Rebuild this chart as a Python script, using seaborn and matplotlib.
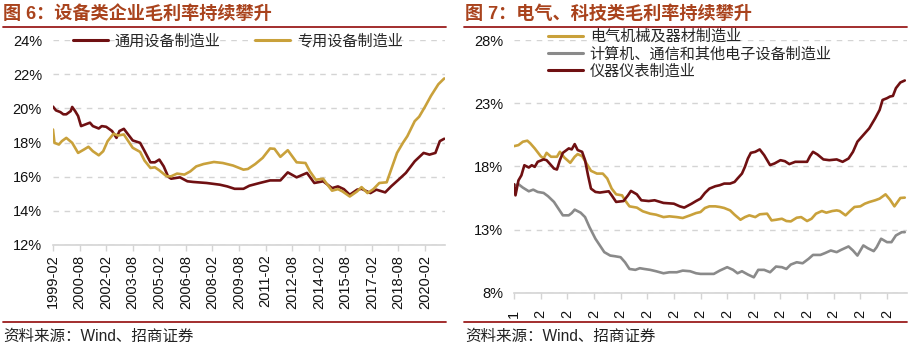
import numpy as np
import pandas as pd
import matplotlib
matplotlib.use("Agg")
import matplotlib.pyplot as plt
from matplotlib.lines import Line2D
import seaborn as sns

# ---------------- data ----------------
# x = month index from the first observation; ticks every 18 months
tick_pos = [0, 18, 36, 54, 72, 90, 108, 126, 144, 162, 180, 198, 216, 234, 252]
left_tick_labels = ["1999-02", "2000-08", "2002-02", "2003-08", "2005-02", "2006-08",
                    "2008-02", "2009-08", "2011-02", "2012-08", "2014-02", "2015-08",
                    "2017-02", "2018-08", "2020-02"]
right_tick_labels = ["1"] + ["2"] * 14

gen_m = [0, 2, 5, 7, 9, 12, 13, 15, 17, 19, 22, 25, 27, 31, 33, 36, 40, 43, 45, 48,
         50, 54, 59, 62, 66, 69, 72, 75, 78, 80, 86, 91, 95, 104, 113, 118, 123, 129, 133, 140,
         147, 154, 159, 165, 172, 177, 183, 189, 193, 197, 201, 206, 209, 215, 219, 225, 229, 234, 239, 245,
         251, 255, 259, 262, 265]
gen_v = [20.1, 19.88, 19.78, 19.65, 19.65, 19.84, 20.08, 19.84, 19.55, 18.96, 19.06, 19.16, 18.96, 18.82, 18.96,
         18.92, 18.67, 18.27, 18.67, 18.8, 18.57, 18.12, 17.98, 17.5, 16.84, 16.84, 17.0, 16.6, 16.0, 15.88,
         15.96, 15.73, 15.69, 15.63, 15.53, 15.43, 15.29, 15.29, 15.47, 15.63, 15.78, 15.78, 16.25, 15.96, 16.22,
         15.63, 15.73, 15.33, 15.43, 15.27, 14.94, 15.24, 15.29, 15.04, 15.24, 15.08, 15.43, 15.82, 16.22, 16.9,
         17.39, 17.29, 17.39, 18.08, 18.22]

spc_m = [0, 1, 4, 6, 9, 13, 17, 21, 24, 27, 31, 34, 37, 41, 44, 48, 51, 54, 59, 62,
         66, 69, 72, 77, 80, 84, 89, 93, 97, 102, 109, 115, 122, 129, 132, 137, 142, 147, 150, 154,
         159, 165, 171, 174, 178, 183, 185, 189, 193, 196, 201, 206, 209, 213, 217, 221, 226, 229, 233, 237,
         240, 245, 248, 252, 256, 261, 265]
spc_v = [18.76, 17.98, 17.88, 18.08, 18.27, 17.98, 17.39, 17.59, 17.75, 17.49, 17.25, 17.49, 18.08, 18.51, 18.41,
         18.47, 18.08, 17.69, 17.45, 16.94, 16.51, 16.55, 16.37, 16.02, 16.02, 16.18, 16.12, 16.31, 16.6, 16.74,
         16.86, 16.8, 16.65, 16.41, 16.45, 16.74, 17.1, 17.65, 17.63, 17.16, 17.55, 16.84, 16.8, 16.31, 15.82,
         15.88, 15.63, 15.18, 15.27, 15.14, 14.84, 15.14, 15.39, 15.04, 15.27, 15.63, 15.67, 16.41, 17.39, 17.98,
         18.37, 19.25, 19.51, 20.1, 20.73, 21.41, 21.75]

ele_m = [0, 3, 6, 9, 11, 14, 18, 20, 22, 25, 29, 31, 34, 38, 41, 43, 46, 49, 52, 56,
         60, 63, 66, 69, 73, 75, 78, 83, 87, 92, 96, 101, 105, 110, 114, 119, 123,
         126, 129, 132, 136, 139, 142, 146, 149, 153, 156, 159, 163, 166, 171, 174, 177, 181, 184, 187, 191,
         194, 198, 201, 204, 208, 211, 215, 218, 220, 224, 227, 230, 234, 237, 240, 244, 247, 251, 254, 257,
         261, 264]
ele_v = [19.61, 19.69, 19.96, 20.04, 19.83, 19.43, 18.82, 18.63, 19.08, 18.77, 18.77, 19.16, 18.71, 18.29, 18.77,
         18.98, 18.82, 18.24, 17.66, 17.44, 17.44, 17.05, 16.25, 15.8, 15.72, 15.33, 14.85, 14.75, 14.46, 14.27,
         14.19, 14.0, 14.06, 14.0, 13.93, 14.14, 14.32,
         14.4, 14.72, 14.85, 14.85, 14.8, 14.72, 14.53, 14.19, 13.79, 14.0, 14.14, 14.0, 14.22, 14.27, 13.74,
         13.79, 13.87, 13.69, 13.66, 13.95, 14.0, 13.69, 13.87, 14.27, 14.48, 14.35, 14.48, 14.53, 14.48, 14.14,
         14.48, 14.8, 14.85, 15.06, 15.19, 15.33, 15.46, 15.8, 15.38, 14.85, 15.51, 15.54]

cmp_m = [0, 3, 6, 10, 13, 16, 20, 23, 27, 30, 33, 37, 39, 41, 45, 48, 51, 55, 58, 61,
         65, 68, 72, 75, 78, 82, 85, 88, 92, 96, 101, 105, 110, 114, 119, 123,
         126, 130, 135, 139, 144, 148, 151, 154, 158, 162, 165, 169, 173, 177, 181, 184, 187, 191, 195, 199,
         202, 207, 210, 214, 218, 221, 226, 229, 232, 236, 239, 243, 245, 248, 252, 255, 258, 262, 264]
cmp_v = [16.5, 16.6, 16.33, 16.04, 16.17, 15.99, 15.91, 15.65, 15.2, 14.67, 14.14, 14.14, 14.32, 14.59, 14.35,
         14.0, 13.21, 12.29, 11.76, 11.23, 10.96, 10.91, 10.83, 10.43, 9.9, 9.83, 9.96, 9.9, 9.83, 9.72,
         9.56, 9.64, 9.64, 9.77, 9.72, 9.56,
         9.51, 9.51, 9.51, 9.77, 10.04, 9.83, 9.56, 9.72, 9.46, 9.24, 9.83, 9.83, 9.64, 10.09, 10.04,
         9.9, 10.25, 10.43, 10.35, 10.7, 11.01, 11.01, 11.15, 11.36, 11.23, 11.41, 11.68, 11.36, 10.96, 11.76,
         11.54, 11.31, 11.62, 12.29, 12.02, 12.02, 12.55, 12.81, 12.81]

ins_m = [0, 1, 3, 5, 7, 10, 12, 14, 16, 20, 22, 24, 27, 29, 31, 33, 37, 39, 41, 43,
         46, 48, 50, 52, 55, 58, 61, 64, 66, 69, 74, 77, 79, 83, 86, 91, 95, 101, 108, 112,
         115, 120, 123, 126, 129, 132, 136, 139, 142, 146, 149, 151, 154, 156, 158, 160, 163, 166, 169, 173,
         176, 180, 183, 186, 190, 193, 198, 200, 202, 205, 209, 213, 218, 222, 226, 229, 232, 236, 240, 244,
         247, 249, 252, 254, 256, 258, 261, 264]
ins_v = [16.6, 15.72, 16.9, 17.3, 18.1, 17.92, 18.1, 17.97, 18.37, 18.56, 18.5, 18.24, 17.84, 17.76, 18.5,
         19.08, 19.43, 19.35, 19.77, 19.3, 19.16, 18.5, 17.31, 16.25, 15.99, 15.94, 15.99, 16.04, 15.72, 15.2,
         15.27, 15.72, 16.07, 15.8, 15.33, 15.27, 15.33, 15.12, 15.06, 14.85, 14.75, 15.06, 15.27,
         15.46, 15.91, 16.25, 16.44, 16.52, 16.65, 16.65, 16.78, 17.05, 17.44, 17.97, 18.63, 19.08, 19.16,
         19.35, 18.9, 18.11, 18.24, 18.5, 18.42, 18.19, 18.37, 18.37, 18.37, 18.82, 19.16, 18.95, 18.56,
         18.5, 18.56, 18.37, 18.63, 19.16, 19.96, 20.49, 21.02, 21.81, 22.47, 23.26, 23.4, 23.53, 23.58,
         24.19, 24.64, 24.8]

left_names = ["通用设备制造业", "专用设备制造业"]
right_names = ["电气机械及器材制造业", "计算机、通信和其他电子设备制造业", "仪器仪表制造业"]

DARK = "#6F1012"
GOLD = "#C9A13B"
GRAY = "#8A8A8A"
TITLE_C = "#A9431D"
RULE_C = "#9B1C1C"
GRID_C = "#D4D4D4"

df_left = pd.concat([
    pd.DataFrame({"m": gen_m, "v": gen_v, "s": left_names[0]}),
    pd.DataFrame({"m": spc_m, "v": spc_v, "s": left_names[1]}),
])
df_right = pd.concat([
    pd.DataFrame({"m": ele_m, "v": ele_v, "s": right_names[0]}),
    pd.DataFrame({"m": cmp_m, "v": cmp_v, "s": right_names[1]}),
    pd.DataFrame({"m": ins_m, "v": ins_v, "s": right_names[2]}),
])

# ---------------- style ----------------
sns.set_theme(style="white")
plt.rcParams["font.family"] = ["Liberation Sans", "Noto Sans CJK SC", "DejaVu Sans"]
plt.rcParams["axes.unicode_minus"] = False

W, H = 924, 351
fig = plt.figure(figsize=(W / 100, H / 100), dpi=100)
fig.patch.set_facecolor("white")

ax1 = fig.add_axes([53 / W, 1 - 245 / H, 392 / W, 205 / H])
ax2 = fig.add_axes([514 / W, 1 - 293 / H, 393 / W, 253 / H])

sns.lineplot(data=df_left, x="m", y="v", hue="s", hue_order=left_names,
             palette=[DARK, GOLD], linewidth=1.9, ax=ax1, legend=False, estimator=None, sort=False)
sns.lineplot(data=df_right, x="m", y="v", hue="s", hue_order=right_names,
             palette=[GOLD, GRAY, DARK], linewidth=1.9, ax=ax2, legend=False, estimator=None, sort=False)


def style_axis(ax, yticks, xlabels, xpad):
    ax.set_xlim(0, 265.5)
    ax.set_ylim(yticks[0], yticks[-1])
    ax.set_yticks(yticks)
    ax.set_yticklabels([f"{t}%" for t in yticks])
    ax.set_xticks(tick_pos)
    ax.set_xticklabels(xlabels, rotation=90)
    ax.set_xlabel("")
    ax.set_ylabel("")
    for sp in ["left", "right", "top"]:
        ax.spines[sp].set_visible(False)
    ax.spines["bottom"].set_color(GRID_C)
    ax.spines["bottom"].set_linewidth(1.2)
    ax.yaxis.grid(True, color=GRID_C, linestyle=(0, (4, 4)), linewidth=1.0)
    ax.xaxis.grid(False)
    ax.set_axisbelow(True)
    ax.tick_params(axis="y", length=0, pad=8, labelsize=10.5, labelcolor="#111111")
    ax.tick_params(axis="x", bottom=True, direction="out", length=4, width=1.0,
                   color=GRID_C, pad=xpad, labelsize=10.5, labelcolor="#111111")
    ax.set_facecolor("white")


style_axis(ax1, [12, 14, 16, 18, 20, 22, 24], left_tick_labels, 3)
style_axis(ax2, [8, 13, 18, 23, 28], right_tick_labels, 8)

# legends
h1 = [Line2D([], [], color=c, lw=2.2) for c in [DARK, GOLD]]
fig.legend(h1, left_names, loc="center left", bbox_to_anchor=(73 / W, 1 - 41 / H),
           bbox_transform=fig.transFigure, ncol=2, frameon=False, fontsize=10.9,
           handlelength=2.3, handletextpad=0.45, columnspacing=2.3, borderpad=0, borderaxespad=0)

h2 = [Line2D([], [], color=c, lw=2.2) for c in [GOLD, GRAY, DARK]]
fig.legend(h2, right_names, loc="upper left", bbox_to_anchor=(548 / W, 1 - 29.5 / H),
           bbox_transform=fig.transFigure, ncol=1, frameon=False, fontsize=10.9,
           handlelength=2.3, handletextpad=0.45, labelspacing=0.2, borderpad=0, borderaxespad=0)

# titles, rules, sources
fig.text(3 / W, 1 - 14 / H, "图 6：设备类企业毛利率持续攀升", fontsize=13.1, weight="bold",
         color=TITLE_C, va="center", ha="left")
fig.text(465 / W, 1 - 14 / H, "图 7：电气、科技类毛利率持续攀升", fontsize=13.1, weight="bold",
         color=TITLE_C, va="center", ha="left")
for x0, x1 in [(3, 446), (464, 907)]:
    for yy in (27, 322):
        fig.add_artist(Line2D([x0 / W, x1 / W], [1 - yy / H, 1 - yy / H], color=RULE_C, lw=1.3,
                              transform=fig.transFigure))
fig.text(3 / W, 1 - 336 / H, "资料来源：Wind、招商证券", fontsize=11.2, color="#222222",
         va="center", ha="left")
fig.text(465 / W, 1 - 336 / H, "资料来源：Wind、招商证券", fontsize=11.2, color="#222222",
         va="center", ha="left")

fig.savefig("out.png", dpi=100, facecolor="white")
